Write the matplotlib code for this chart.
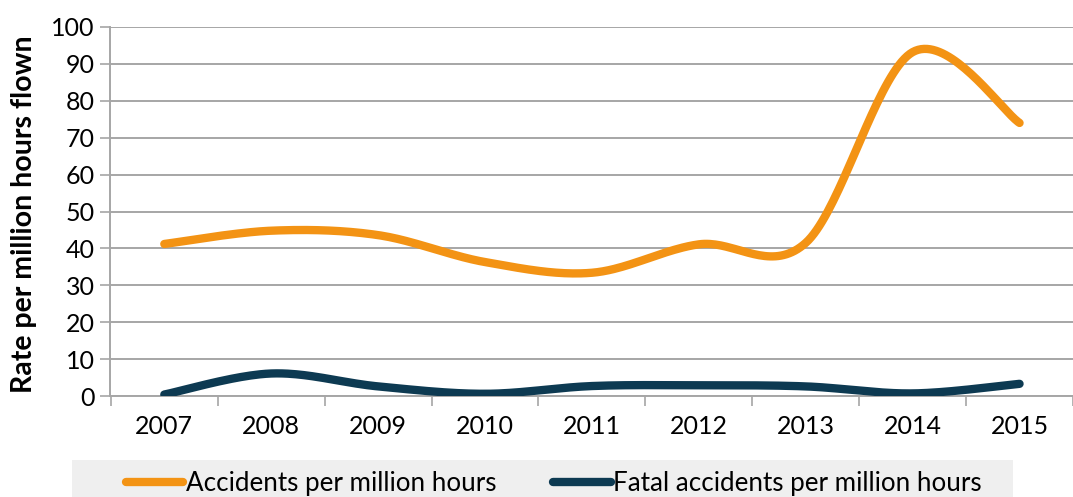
import numpy as np
import matplotlib
matplotlib.use("Agg")
import matplotlib.pyplot as plt
from matplotlib.lines import Line2D
from matplotlib.patches import Rectangle

years = ["2007", "2008", "2009", "2010", "2011", "2012", "2013", "2014", "2015"]
accidents = [41.2, 44.8, 43.6, 36.3, 33.4, 41.1, 41.5, 93.2, 74.0]
fatal = [0.4, 6.1, 2.6, 0.6, 2.7, 2.9, 2.6, 0.7, 3.3]

ORANGE = "#F39314"
NAVY = "#0D3A52"
GRID = "#A6A6A6"

plt.rcParams["font.family"] = ["Lato", "DejaVu Sans"]


def smooth(xs, ys, n=40):
    """Bezier smoothing of a polyline (Catmull-Rom style control points)."""
    xs = np.asarray(xs, float)
    ys = np.asarray(ys, float)
    px = np.concatenate([[xs[0]], xs, [xs[-1]]])
    py = np.concatenate([[ys[0]], ys, [ys[-1]]])
    out_x, out_y = [], []
    t = np.linspace(0, 1, n)
    for i in range(1, len(px) - 2):
        p0 = np.array([px[i], py[i]])
        p3 = np.array([px[i + 1], py[i + 1]])
        c1 = p0 + (np.array([px[i + 1], py[i + 1]]) - np.array([px[i - 1], py[i - 1]])) / 6
        c2 = p3 - (np.array([px[i + 2], py[i + 2]]) - np.array([px[i], py[i]])) / 6
        b = ((1 - t) ** 3)[:, None] * p0 + (3 * (1 - t) ** 2 * t)[:, None] * c1 \
            + (3 * (1 - t) * t ** 2)[:, None] * c2 + (t ** 3)[:, None] * p3
        out_x.extend(b[:, 0])
        out_y.extend(b[:, 1])
    return np.array(out_x), np.array(out_y)


W, H = 1073, 497
fig = plt.figure(figsize=(W / 100, H / 100), dpi=100)
ax = fig.add_axes([110 / W, 101 / H, 1 - 110 / W, 369 / H])

x = np.arange(len(years))
sx, sy = smooth(x, accidents)
ax.plot(sx, sy, color=ORANGE, lw=6, solid_capstyle="round", zorder=3)
fx, fy = smooth(x, fatal)
ax.plot(fx, fy, color=NAVY, lw=6, solid_capstyle="round", zorder=3)

ax.set_ylim(0, 100)
ax.set_xlim(-0.508, 8.41)
ax.set_yticks(range(0, 101, 10))
ax.yaxis.grid(True, color=GRID, lw=1.4)
ax.set_axisbelow(True)

ax.set_xticks(x)
ax.set_xticklabels(years, fontsize=18)
ax.set_xticks(np.arange(-0.5, len(years) + 0.5, 1), minor=True)
ax.tick_params(axis="x", which="major", length=0, pad=14)
ax.tick_params(axis="x", which="minor", length=7, width=1.2, color=GRID)
ax.tick_params(axis="y", length=7, width=1.2, color=GRID, labelsize=18, pad=4)

for s in ["top", "right"]:
    ax.spines[s].set_visible(False)
ax.spines["left"].set_color(GRID)
ax.spines["left"].set_linewidth(1.4)
ax.spines["bottom"].set_color(GRID)
ax.spines["bottom"].set_linewidth(1.4)

fig.text(24 / W, (H - 214) / H, "Rate per million hours flown", rotation=90,
         fontsize=20.5, fontweight="bold", ha="center", va="center")

# legend band along the bottom
fig.patches.append(Rectangle((72 / W, 0), (1013 - 72) / W, 37 / H, transform=fig.transFigure,
                             facecolor="#EFEFEF", edgecolor="none", zorder=0))
handles = [Line2D([0], [0], color=ORANGE, lw=6, solid_capstyle="round"),
           Line2D([0], [0], color=NAVY, lw=6, solid_capstyle="round")]
leg = fig.legend(handles, ["Accidents per million hours", "Fatal accidents per million hours"],
                 loc="center left", bbox_to_anchor=(126 / W, 13 / H),
                 ncol=2, frameon=False, fontsize=18.7, handlelength=2.2, handletextpad=0.1,
                 columnspacing=2.2, borderaxespad=0, borderpad=0)

fig.savefig("out.png", dpi=100)
